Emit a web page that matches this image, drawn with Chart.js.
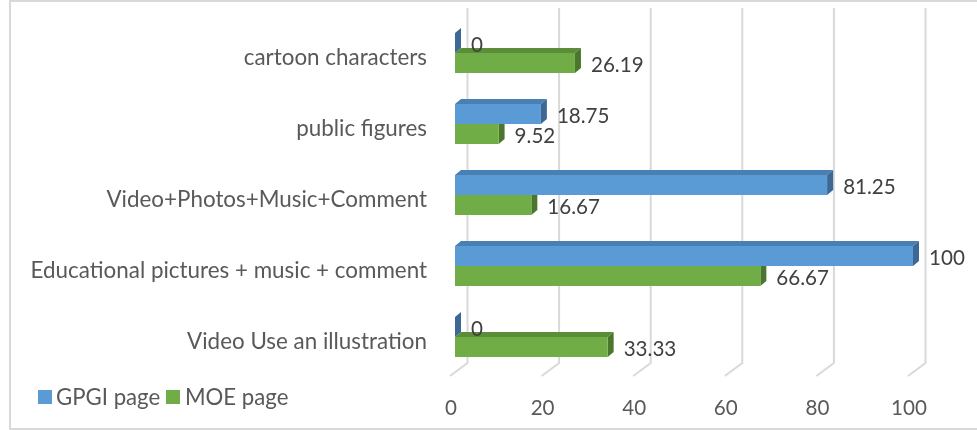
<!DOCTYPE html>
<html>
<head>
<meta charset="utf-8">
<script src="https://cdn.jsdelivr.net/npm/chart.js@4/dist/chart.umd.min.js"></script>
<style>
  html, body { margin:0; padding:0; background:#fff; }
  #wrap { position:relative; width:977px; height:430px; overflow:hidden; }
  #frame { position:absolute; left:9px; top:0px; width:990px; height:430px; border:2px solid #d9d9d9; box-sizing:border-box; pointer-events:none; }
  canvas { position:absolute; left:0; top:0; }
  .sw { position:absolute; top:390px; width:14px; height:14px; }
  .lt { position:absolute; top:383px; font-family:Lato, "Open Sans", sans-serif; font-size:22.2px; color:#595959; line-height:28px; white-space:nowrap; }
</style>
</head>
<body>
<div id="wrap">
  <canvas id="c" width="977" height="430"></canvas>
  <div id="frame"></div>
  <div class="sw" style="left:38px;background:#5B9BD5"></div>
  <div class="lt" id="leg1" style="left:56px;">GPGI page</div>
  <div class="sw" style="left:166px;background:#70AD47"></div>
  <div class="lt" id="leg2" style="left:185px;">MOE page</div>
</div>
<script>
const categories = ['cartoon characters', 'public figures', 'Video+Photos+Music+Comment', 'Educational pictures + music + comment', 'Video Use an illustration'];
const gpgiValues = [0, 18.75, 81.25, 100, 0];
const moeValues = [26.19, 9.52, 16.67, 66.67, 33.33];
const seriesNames = ['GPGI page', 'MOE page'];
const xTicks = [0, 20, 40, 60, 80, 100];

document.getElementById('leg1').textContent = seriesNames[0];
document.getElementById('leg2').textContent = seriesNames[1];

const FONT = 'Lato, "Open Sans", sans-serif';
const DX = 6, DY = 5;
const faceColors = [
  { top: '#4a7fb3', side: '#3c6893' },
  { top: '#5b8d39', side: '#4a772c' }
];

function drawFaces(ctx, bar, colors) {
  const x0 = Math.min(bar.base, bar.x), x1 = Math.max(bar.base, bar.x);
  const y0 = bar.y - bar.height / 2, y1 = bar.y + bar.height / 2;
  if (x1 - x0 > 0.5) {
    ctx.fillStyle = colors.top;
    ctx.beginPath();
    ctx.moveTo(x0, y0); ctx.lineTo(x0 + DX, y0 - DY); ctx.lineTo(x1 + DX, y0 - DY); ctx.lineTo(x1, y0);
    ctx.closePath(); ctx.fill();
  }
  ctx.fillStyle = colors.side;
  ctx.beginPath();
  ctx.moveTo(x1, y0); ctx.lineTo(x1 + DX, y0 - DY); ctx.lineTo(x1 + DX, y1 - DY); ctx.lineTo(x1, y1);
  ctx.closePath(); ctx.fill();
}

const threeD = {
  id: 'threeD',
  beforeDatasetsDraw(chart) {
    const ctx = chart.ctx;
    const xs = chart.scales.x;
    ctx.save();
    ctx.strokeStyle = '#d9d9d9';
    ctx.lineWidth = 2;
    xTicks.forEach(v => {
      const px = xs.getPixelForValue(v);
      ctx.beginPath();
      ctx.moveTo(px + 12.5, 8);
      ctx.lineTo(px + 12.5, 363);
      ctx.lineTo(px - 5, 376);
      ctx.stroke();
    });
    chart.getDatasetMeta(1).data.forEach(bar => drawFaces(ctx, bar, faceColors[1]));
    ctx.restore();
  },
  afterDatasetsDraw(chart) {
    const ctx = chart.ctx;
    ctx.save();
    chart.getDatasetMeta(0).data.forEach(bar => drawFaces(ctx, bar, faceColors[0]));
    ctx.font = '20.6px ' + FONT;
    ctx.fillStyle = '#404040';
    ctx.textAlign = 'left';
    ctx.textBaseline = 'middle';
    chart.data.datasets.forEach((ds, di) => {
      chart.getDatasetMeta(di).data.forEach((bar, i) => {
        const v = ds.data[i];
        ctx.fillText(String(v), Math.max(bar.x, bar.base) + 16, bar.y + 2);
      });
    });
    ctx.restore();
  }
};

new Chart(document.getElementById('c'), {
  type: 'bar',
  data: {
    labels: categories,
    datasets: [
      { label: seriesNames[0], data: gpgiValues, backgroundColor: '#5B9BD5', borderWidth: 0 },
      { label: seriesNames[1], data: moeValues, backgroundColor: '#70AD47', borderWidth: 0 }
    ]
  },
  options: {
    indexAxis: 'y',
    responsive: false,
    animation: false,
    devicePixelRatio: 1,
    categoryPercentage: 40 / 71,
    barPercentage: 1,
    layout: { padding: { left: 0, right: 64, top: 17.5, bottom: 0 } },
    plugins: { legend: { display: false }, tooltip: { enabled: false } },
    scales: {
      x: {
        type: 'linear', min: 0, max: 100,
        afterBuildTicks: s => { s.ticks = xTicks.map(v => ({ value: v })); },
        afterFit: s => { s.height = 57.5; s.paddingLeft = 0; s.paddingRight = 0; },
        grid: { display: false, drawTicks: false, tickLength: 0 },
        border: { display: false },
        ticks: { padding: 23, labelOffset: -4, color: '#595959', font: { family: FONT, size: 20.6 } }
      },
      y: {
        afterFit: s => { s.width = 455; s.paddingTop = 0; s.paddingBottom = 0; },
        grid: { display: false, drawTicks: false, tickLength: 0 },
        border: { display: false },
        ticks: { padding: 28, labelOffset: 5, color: '#595959', font: { family: FONT, size: 22.4 } }
      }
    }
  },
  plugins: [threeD]
});
</script>
</body>
</html>
